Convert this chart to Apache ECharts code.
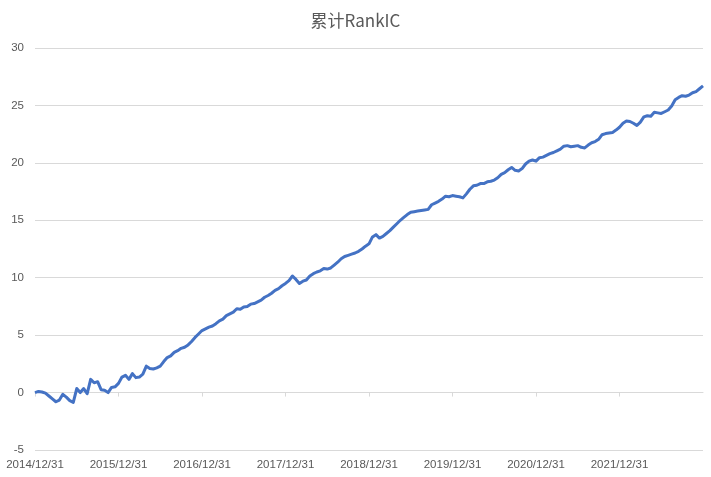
<!DOCTYPE html>
<html>
<head>
<meta charset="utf-8">
<title>累计RankIC</title>
<script src="https://cdn.jsdelivr.net/npm/echarts@6/dist/echarts.min.js"></script>
<style>
    html, body { margin: 0; padding: 0; background: #fff; }
    #chart { width: 711px; height: 477px; }
</style>
</head>
<body>
<div id="chart"></div>
<script>
// 起止年份，每月取月中和月末两个观测点
const startYear = 2015
const endYear = 2022

// 累计RankIC
const rankIcCum = [
    0, 0.1, 0.05, -0.05, -0.3, -0.55, -0.8, -0.65, -0.15, -0.4, -0.7, -0.85,
    0.35, 0, 0.35, -0.1, 1.15, 0.85, 0.95, 0.25, 0.2, 0, 0.45, 0.5,
    0.8, 1.35, 1.5, 1.15, 1.65, 1.3, 1.35, 1.6, 2.3, 2.1, 2.05, 2.15,
    2.3, 2.7, 3.05, 3.2, 3.5, 3.65, 3.85, 3.95, 4.15, 4.45, 4.8, 5.1,
    5.4, 5.55, 5.7, 5.8, 6.0, 6.25, 6.4, 6.7, 6.85, 7.0, 7.3, 7.25,
    7.45, 7.5, 7.7, 7.75, 7.9, 8.05, 8.3, 8.45, 8.65, 8.9, 9.05, 9.3,
    9.5, 9.75, 10.15, 9.85, 9.5, 9.7, 9.8, 10.15, 10.35, 10.5, 10.6, 10.8,
    10.75, 10.85, 11.1, 11.35, 11.65, 11.85, 11.95, 12.05, 12.15, 12.3, 12.5, 12.75,
    12.95, 13.55, 13.75, 13.45, 13.6, 13.85, 14.1, 14.4, 14.7, 15.0, 15.25, 15.5,
    15.7, 15.75, 15.8, 15.85, 15.9, 15.95, 16.35, 16.5, 16.65, 16.85, 17.1, 17.05,
    17.15, 17.1, 17.05, 16.95, 17.3, 17.7, 18.0, 18.05, 18.2, 18.2, 18.35, 18.4,
    18.5, 18.7, 19.0, 19.15, 19.4, 19.6, 19.35, 19.3, 19.5, 19.9, 20.15, 20.25,
    20.15, 20.45, 20.5, 20.65, 20.8, 20.9, 21.05, 21.2, 21.45, 21.5, 21.4, 21.45,
    21.5, 21.35, 21.3, 21.55, 21.75, 21.85, 22.05, 22.45, 22.55, 22.6, 22.65, 22.85,
    23.1, 23.45, 23.65, 23.6, 23.45, 23.25, 23.55, 24.0, 24.1, 24.05, 24.4, 24.35,
    24.3, 24.45, 24.6, 24.95, 25.5, 25.7, 25.85, 25.8, 25.9, 26.1, 26.2, 26.45,
    26.7
]

// y轴刻度
const yMin = -5
const yMax = 30
const yStep = 5

// 日期类目：2014/12/31 起，每月 15 日和月末
const dates = ['2014/12/31']
const pad = (n) => (n < 10 ? '0' + n : '' + n)
for (let y = startYear; y <= endYear; y++) {
    for (let m = 1; m <= 12; m++) {
        const last = new Date(y, m, 0).getDate()
        dates.push(y + '/' + pad(m) + '/15')
        dates.push(y + '/' + pad(m) + '/' + last)
    }
}
const categories = dates.slice(0, rankIcCum.length)
const lastIdx = categories.length - 1

// 只显示每年年末（最后一个点不标）
const isYearEnd = (idx, val) => idx < lastIdx && val.slice(5) === '12/31'

const chart = echarts.init(document.getElementById('chart'))
const option = {
    animation: false,
    title: {
        text: '累计RankIC',
        left: 'center',
        top: 7,
        textStyle: {
            fontFamily: 'Noto Sans CJK SC',
            fontSize: 17,
            fontWeight: 'normal',
            color: '#595959',
        },
    },
    grid: {
        left: 35,
        right: 8,
        top: 48,
        bottom: 27,
        containLabel: false,
        outerBoundsMode: 'none',
    },
    xAxis: [
        {
            // 底部标签
            type: 'category',
            data: categories,
            boundaryGap: false,
            axisLine: { show: false, onZero: false },
            axisTick: { show: false },
            axisLabel: {
                interval: isYearEnd,
                color: '#595959',
                fontFamily: 'Liberation Sans',
                fontSize: 11.5,
                margin: 9,
            },
            splitLine: { show: false },
        },
        {
            // 0 处的横轴线和刻度
            type: 'category',
            data: categories,
            boundaryGap: false,
            position: 'bottom',
            axisLine: {
                onZero: true,
                lineStyle: { color: '#d9d9d9', width: 1 },
            },
            axisTick: {
                interval: isYearEnd,
                length: 4,
                lineStyle: { color: '#d9d9d9' },
            },
            axisLabel: { show: false },
            splitLine: { show: false },
        },
    ],
    yAxis: {
        type: 'value',
        min: yMin,
        max: yMax,
        interval: yStep,
        axisLine: { show: false },
        axisTick: { show: false },
        axisLabel: {
            color: '#595959',
            fontFamily: 'Liberation Sans',
            fontSize: 11.5,
            margin: 11,
        },
        splitLine: {
            lineStyle: { color: '#d9d9d9', width: 1 },
        },
    },
    series: [
        {
            name: '累计RankIC',
            type: 'line',
            xAxisIndex: 0,
            data: rankIcCum,
            showSymbol: false,
            symbol: 'none',
            lineStyle: {
                color: '#4472C4',
                width: 3,
                join: 'round',
            },
        },
    ],
}
chart.setOption(option)
</script>
</body>
</html>
